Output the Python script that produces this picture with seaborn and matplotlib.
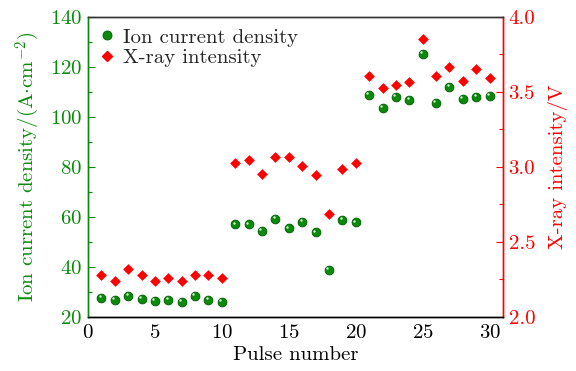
import matplotlib
matplotlib.use("Agg")
import matplotlib.pyplot as plt
import matplotlib.transforms as mtransforms
from matplotlib.ticker import MultipleLocator
from matplotlib.lines import Line2D
import seaborn as sns
import pandas as pd

pulse = list(range(1, 31))
ion_current = [27.6, 26.7, 28.3, 27.1, 26.3, 26.7, 25.9, 28.3, 26.7, 25.9,
               57.0, 57.0, 54.3, 59.1, 55.4, 58.0, 53.8, 38.7, 58.7, 57.8,
               108.7, 103.6, 108.0, 106.7, 125.1, 105.6, 111.9, 107.2, 108.0, 108.3]
xray = [2.278, 2.238, 2.318, 2.278, 2.238, 2.258, 2.238, 2.278, 2.278, 2.258,
        3.022, 3.045, 2.951, 3.067, 3.067, 3.005, 2.945, 2.683, 2.982, 3.022,
        3.607, 3.527, 3.545, 3.567, 3.849, 3.607, 3.667, 3.571, 3.649, 3.589]
legend_labels = ["Ion current density", "X-ray intensity"]

df = pd.DataFrame({"pulse": pulse, "ion": ion_current, "xray": xray})

sns.set_theme(style="white")
plt.rcParams["font.family"] = ["serif"]
plt.rcParams["font.serif"] = ["cmr10"]
plt.rcParams["mathtext.fontset"] = "cm"
plt.rcParams["axes.formatter.use_mathtext"] = True
plt.rcParams["axes.unicode_minus"] = False

GREEN = "#0a8a0a"
RED = "#ff0000"
FS = 15

fig = plt.figure(figsize=(5.76, 3.71), dpi=100)
ax = fig.add_axes([0.1528, 0.1464, 0.8733 - 0.1528, 0.955 - 0.1464])
ax2 = ax.twinx()

sns.scatterplot(data=df, x="pulse", y="ion", ax=ax, color=GREEN, marker="o", s=40,
                edgecolor="#005a00", linewidth=0.6, zorder=3, legend=False)
# glossy highlight
off = mtransforms.offset_copy(ax.transData, fig=fig, x=-1.2, y=1.2, units="points")
ax.scatter(df["pulse"], df["ion"], s=3, color="#d8f0d8", transform=off, zorder=4, linewidths=0)

sns.scatterplot(data=df, x="pulse", y="xray", ax=ax2, color=RED, marker="D", s=30,
                edgecolor=RED, linewidth=0, zorder=3, legend=False)

ax.set_xlim(0, 31)
ax.set_ylim(20, 140)
ax2.set_ylim(2.0, 4.0)

ax.xaxis.set_major_locator(MultipleLocator(5))
ax.xaxis.set_minor_locator(MultipleLocator(2.5))
ax.yaxis.set_major_locator(MultipleLocator(20))
ax.yaxis.set_minor_locator(MultipleLocator(10))
ax2.yaxis.set_major_locator(MultipleLocator(0.5))
ax2.yaxis.set_minor_locator(MultipleLocator(0.25))
ax2.yaxis.set_major_formatter(matplotlib.ticker.FormatStrFormatter("%.1f"))

ax.tick_params(axis="x", which="both", direction="in", top=False, colors="black",
               labelsize=FS, pad=5)
ax.tick_params(axis="x", which="major", length=5, width=0.8)
ax.tick_params(axis="x", which="minor", length=3, width=0.8)
ax.tick_params(axis="y", which="both", direction="in", colors=GREEN, labelsize=FS, pad=4)
ax.tick_params(axis="y", which="major", length=5, width=0.8)
ax.tick_params(axis="y", which="minor", length=3, width=0.8)
ax2.tick_params(axis="y", which="both", direction="in", colors=RED, labelsize=FS, pad=4)
ax2.tick_params(axis="y", which="major", length=5, width=0.8)
ax2.tick_params(axis="y", which="minor", length=3, width=0.8)

for a in (ax, ax2):
    for s in a.spines.values():
        s.set_linewidth(1.0)
    a.spines["left"].set_color(GREEN)
    a.spines["right"].set_color(RED)
    a.spines["top"].set_color("#333333")
    a.spines["bottom"].set_color("black")

ax.set_xlabel("Pulse number", fontsize=FS, color="black", labelpad=3)
ax.set_ylabel(r"Ion current density/(A$\cdot$cm$^{-2}$)", fontsize=FS, color=GREEN, labelpad=6)
ax2.set_ylabel("X-ray intensity/V", fontsize=FS, color=RED, labelpad=9)

handles = [Line2D([], [], linestyle="none", marker="o", markersize=6.5, markerfacecolor=GREEN,
                  markeredgecolor="#005a00", markeredgewidth=0.6),
           Line2D([], [], linestyle="none", marker="D", markersize=5, markerfacecolor=RED,
                  markeredgecolor=RED)]
ax2.legend(handles, legend_labels, loc="upper left",
           frameon=False, fontsize=FS, handlelength=0.7, handletextpad=0.45,
           borderaxespad=0.3, labelspacing=0.1, borderpad=0.25)

fig.savefig("out.png", dpi=100)
